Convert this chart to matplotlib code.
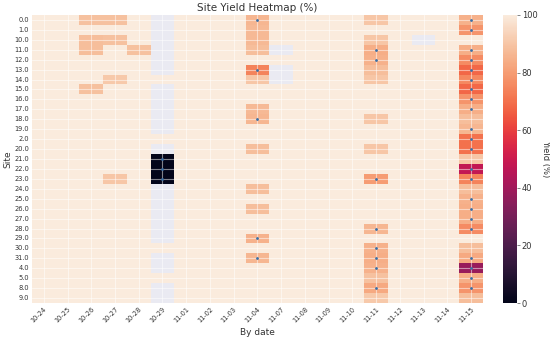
import matplotlib
matplotlib.use("Agg")
import matplotlib.pyplot as plt
import numpy as np
import seaborn as sns

N = np.nan

sites = ["0.0", "1.0", "10.0", "11.0", "12.0", "13.0", "14.0", "15.0", "16.0",
         "17.0", "18.0", "19.0", "2.0", "20.0", "21.0", "22.0", "23.0", "24.0",
         "25.0", "26.0", "27.0", "28.0", "29.0", "30.0", "31.0", "4.0", "5.0",
         "8.0", "9.0"]
dates = ["10-24", "10-25", "10-26", "10-27", "10-28", "10-29", "11-01", "11-02",
         "11-03", "11-04", "11-07", "11-08", "11-09", "11-10", "11-11", "11-12",
         "11-13", "11-14", "11-15"]

# yield (%) per site, one row per site, columns follow `dates`
yield_pct = [
    [100, 100, 89, 89, 100, N, 100, 100, 100, 86, 100, 100, 100, 100, 90, 100, 100, 100, 85],
    [100, 100, 100, 100, 100, N, 100, 100, 100, 87, 100, 100, 100, 100, 100, 100, 100, 100, 78],
    [100, 100, 88, 89, 100, N, 100, 100, 100, 87, 100, 100, 100, 100, 90, 100, N, 100, 100],
    [100, 100, 88, 100, 89, N, 100, 100, 100, 88, N, 100, 100, 100, 84, 100, 100, 100, 84],
    [100, 100, 100, 100, 100, N, 100, 100, 100, 100, 100, 100, 100, 100, 85, 100, 100, 100, 76],
    [100, 100, 100, 100, 100, N, 100, 100, 100, 74, N, 100, 100, 100, 88, 100, 100, 100, 68],
    [100, 100, 100, 91, 100, 100, 100, 100, 100, 90, N, 100, 100, 100, 90, 100, 100, 100, 75],
    [100, 100, 89, 100, 100, N, 100, 100, 100, 100, 100, 100, 100, 100, 100, 100, 100, 100, 68],
    [100, 100, 100, 100, 100, N, 100, 100, 100, 100, 100, 100, 100, 100, 100, 100, 100, 100, 78],
    [100, 100, 100, 100, 100, N, 100, 100, 100, 87, 100, 100, 100, 100, 100, 100, 100, 100, 84],
    [100, 100, 100, 100, 100, N, 100, 100, 100, 86, 100, 100, 100, 100, 90, 100, 100, 100, 88],
    [100, 100, 100, 100, 100, N, 100, 100, 100, 100, 100, 100, 100, 100, 100, 100, 100, 100, 86],
    [100, 100, 100, 100, 100, 100, 100, 100, 100, 100, 100, 100, 100, 100, 100, 100, 100, 100, 70],
    [100, 100, 100, 100, 100, N, 100, 100, 100, 88, 100, 100, 100, 100, 90, 100, 100, 100, 70],
    [100, 100, 100, 100, 100, 0, 100, 100, 100, 100, 100, 100, 100, 100, 100, 100, 100, 100, 90],
    [100, 100, 100, 100, 100, 0, 100, 100, 100, 100, 100, 100, 100, 100, 100, 100, 100, 100, 48],
    [100, 100, 100, 90, 100, 0, 100, 100, 100, 100, 100, 100, 100, 100, 80, 100, 100, 100, 74],
    [100, 100, 100, 100, 100, N, 100, 100, 100, 88, 100, 100, 100, 100, 100, 100, 100, 100, 88],
    [100, 100, 100, 100, 100, N, 100, 100, 100, 100, 100, 100, 100, 100, 100, 100, 100, 100, 85],
    [100, 100, 100, 100, 100, N, 100, 100, 100, 88, 100, 100, 100, 100, 100, 100, 100, 100, 84],
    [100, 100, 100, 100, 100, N, 100, 100, 100, 100, 100, 100, 100, 100, 100, 100, 100, 100, 84],
    [100, 100, 100, 100, 100, N, 100, 100, 100, 100, 100, 100, 100, 100, 86, 100, 100, 100, 76],
    [100, 100, 100, 100, 100, N, 100, 100, 100, 85, 100, 100, 100, 100, 100, 100, 100, 100, 100],
    [100, 100, 100, 100, 100, 100, 100, 100, 100, 100, 100, 100, 100, 100, 85, 100, 100, 100, 88],
    [100, 100, 100, 100, 100, N, 100, 100, 100, 86, 100, 100, 100, 100, 84, 100, 100, 100, 83],
    [100, 100, 100, 100, 100, N, 100, 100, 100, 100, 100, 100, 100, 100, 85, 100, 100, 100, 38],
    [100, 100, 100, 100, 100, 100, 100, 100, 100, 100, 100, 100, 100, 100, 89, 100, 100, 100, 84],
    [100, 100, 100, 100, 100, N, 100, 100, 100, 100, 100, 100, 100, 100, 83, 100, 100, 100, 78],
    [100, 100, 100, 100, 100, N, 100, 100, 100, 100, 100, 100, 100, 100, 91, 100, 100, 100, 88],
]

# flagged cells (date, site)
flag_dates = (["10-29"] * 3 + ["11-04"] * 5 + ["11-11"] * 8 + ["11-15"] * 22)
flag_sites = (["21.0", "22.0", "23.0"]
              + ["0.0", "13.0", "18.0", "29.0", "31.0"]
              + ["11.0", "12.0", "23.0", "28.0", "30.0", "31.0", "4.0", "8.0"]
              + ["0.0", "1.0", "11.0", "12.0", "13.0", "14.0", "15.0", "16.0",
                 "17.0", "19.0", "2.0", "20.0", "22.0", "23.0", "25.0", "26.0",
                 "27.0", "28.0", "31.0", "4.0", "5.0", "8.0"])

sns.set_style("darkgrid")
plt.rcParams['font.family'] = ['DejaVu Sans']

fig = plt.figure(figsize=(5.5, 3.39), dpi=100)
ax = fig.add_axes([0.058, 0.106, 0.82, 0.85])
cax = fig.add_axes([0.915, 0.106, 0.025, 0.85])

data = np.array(yield_pct, dtype=float)
sns.heatmap(data, ax=ax, cbar_ax=cax, cmap="rocket", vmin=0, vmax=100,
            xticklabels=dates, yticklabels=sites,
            cbar_kws={"label": "Yield (%)"})

ax.set_axisbelow(False)
ax.grid(True, color="white", alpha=0.5, linewidth=0.8)

fx = [dates.index(d) + 0.5 for d in flag_dates]
fy = [sites.index(s) + 0.5 for s in flag_sites]
ax.scatter(fx, fy, s=4, color="#3A6EA5", zorder=5, linewidths=0)

ax.set_title("Site Yield Heatmap (%)", fontsize=7.5, color="#333333", pad=3)
ax.set_xlabel("By date", fontsize=6.5, color="#333333", labelpad=3)
ax.set_ylabel("Site", fontsize=6.5, color="#333333", labelpad=1)
ax.tick_params(axis="x", labelsize=4.8, length=0, pad=2, labelcolor="#333333")
ax.tick_params(axis="y", labelsize=4.8, length=0, pad=2, labelcolor="#333333")
plt.setp(ax.get_xticklabels(), rotation=45, ha="right", rotation_mode="anchor")
plt.setp(ax.get_yticklabels(), rotation=0)

cax.tick_params(labelsize=6, right=True, length=2, width=0.5, color="#555555",
                pad=1.5, labelcolor="#333333")
cax.set_ylabel("Yield (%)", fontsize=6, color="#333333", rotation=270, labelpad=9)

fig.savefig("out.png", dpi=100)
